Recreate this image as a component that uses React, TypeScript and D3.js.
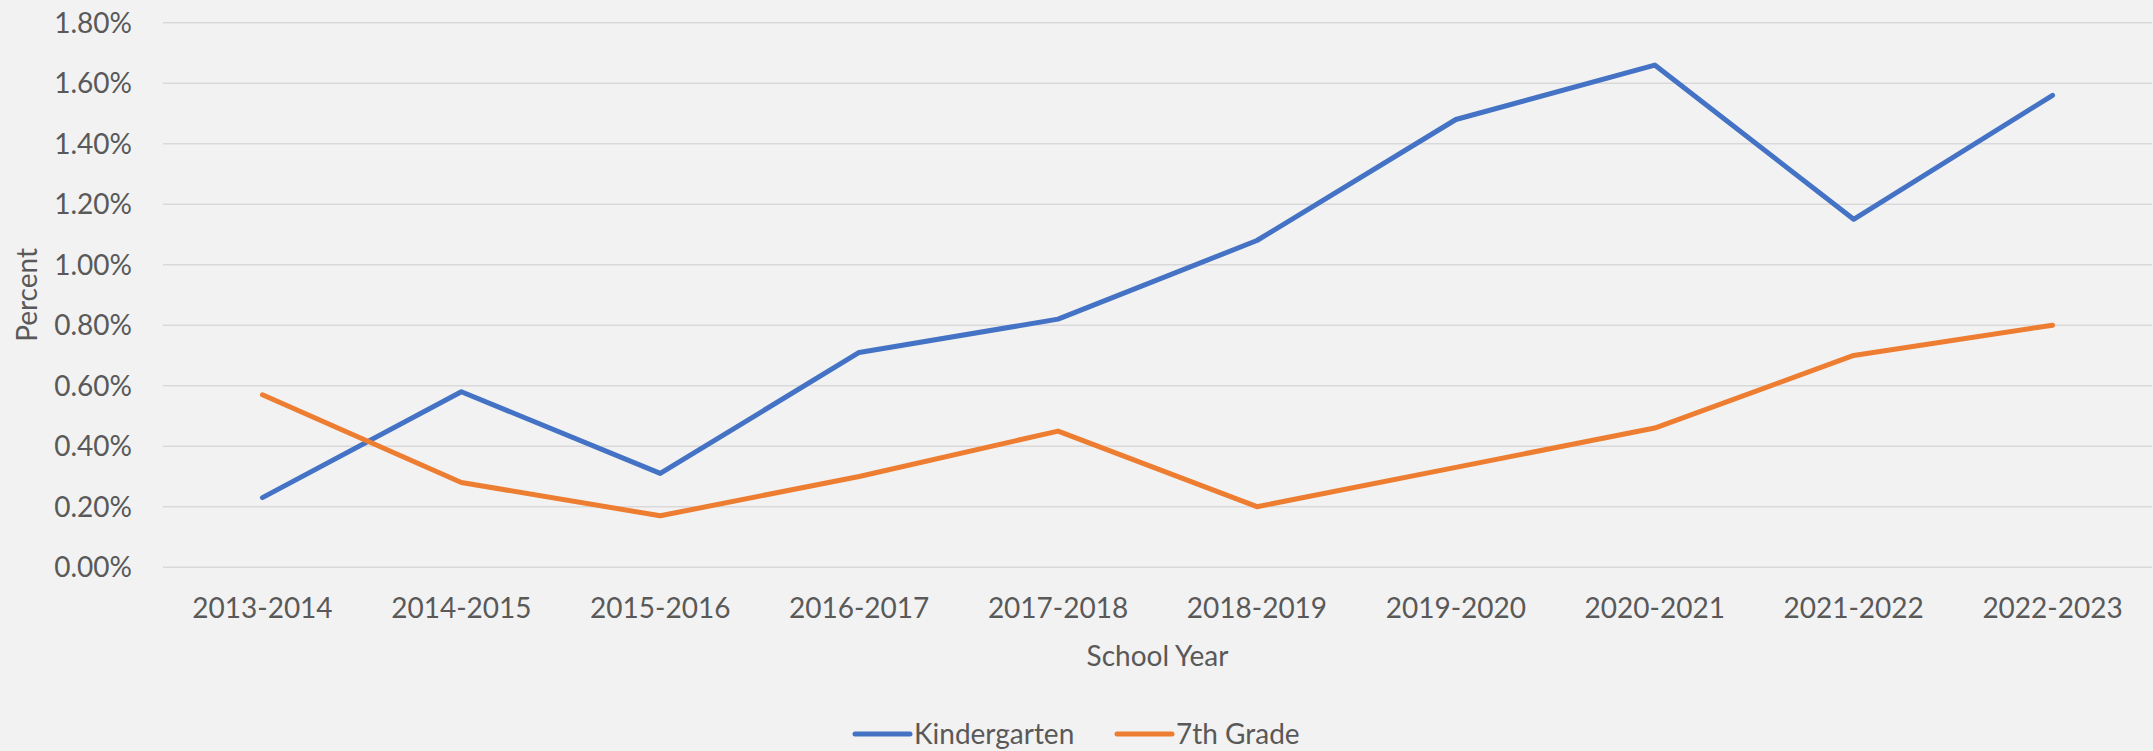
import React, { useRef, useEffect } from 'react';
import * as d3 from 'd3';

const SCHOOL_YEARS = [
    "2013-2014", "2014-2015", "2015-2016", "2016-2017", "2017-2018",
    "2018-2019", "2019-2020", "2020-2021", "2021-2022", "2022-2023"
];

// percent values
const KINDERGARTEN = [0.23, 0.58, 0.31, 0.71, 0.82, 1.08, 1.48, 1.66, 1.15, 1.56];
const SEVENTH_GRADE = [0.57, 0.28, 0.17, 0.30, 0.45, 0.20, 0.33, 0.46, 0.70, 0.80];

const Y_TICKS = [0, 0.2, 0.4, 0.6, 0.8, 1.0, 1.2, 1.4, 1.6, 1.8];

const SERIES = [
    { label: "Kindergarten", color: "#4472C4", values: KINDERGARTEN },
    { label: "7th Grade", color: "#ED7D31", values: SEVENTH_GRADE }
];

const WIDTH = 2153;
const HEIGHT = 751;
const FONT = "Lato, 'Open Sans', sans-serif";
const TEXT_COLOR = "#595959";

const App: React.FC = () => {
    const svgRef = useRef<SVGSVGElement>(null);

    useEffect(() => {
        if (!svgRef.current) return;
        const svg = d3.select(svgRef.current);
        svg.selectAll("*").remove();

        const margin = { top: 22.7, right: 1, bottom: 183.8, left: 163 };
        const width = WIDTH - margin.left - margin.right;
        const height = HEIGHT - margin.top - margin.bottom;

        svg.append("rect")
            .attr("width", WIDTH)
            .attr("height", HEIGHT)
            .attr("fill", "#F2F2F2");

        const xScale = d3.scaleBand<string>()
            .domain(SCHOOL_YEARS)
            .range([0, width]);

        const yScale = d3.scaleLinear()
            .domain([0, 1.8])
            .range([height, 0]);

        const g = svg.append("g").attr("transform", `translate(${margin.left},${margin.top})`);

        // gridlines
        g.append("g")
            .selectAll("line")
            .data(Y_TICKS)
            .join("line")
            .attr("x1", 0)
            .attr("x2", width)
            .attr("y1", d => yScale(d))
            .attr("y2", d => yScale(d))
            .attr("stroke", "#D9D9D9")
            .attr("stroke-width", 1.5);

        // y tick labels
        g.append("g")
            .selectAll("text")
            .data(Y_TICKS)
            .join("text")
            .attr("x", -31)
            .attr("y", d => yScale(d) + 10)
            .attr("text-anchor", "end")
            .attr("fill", TEXT_COLOR)
            .style("font-family", FONT)
            .style("font-size", "28px")
            .text(d => d3.format(".2f")(d) + "%");

        // x tick labels
        g.append("g")
            .selectAll("text")
            .data(SCHOOL_YEARS)
            .join("text")
            .attr("x", d => (xScale(d) || 0) + xScale.bandwidth() / 2)
            .attr("y", height + 51)
            .attr("text-anchor", "middle")
            .attr("fill", TEXT_COLOR)
            .style("font-family", FONT)
            .style("font-size", "28px")
            .text(d => d);

        // axis titles
        g.append("text")
            .attr("x", width / 2)
            .attr("y", height + 99)
            .attr("text-anchor", "middle")
            .attr("fill", TEXT_COLOR)
            .style("font-family", FONT)
            .style("font-size", "28px")
            .text("School Year");

        svg.append("text")
            .attr("transform", `translate(37,${margin.top + height / 2}) rotate(-90)`)
            .attr("text-anchor", "middle")
            .attr("fill", TEXT_COLOR)
            .style("font-family", FONT)
            .style("font-size", "28px")
            .text("Percent");

        // lines
        const line = d3.line<number>()
            .x((_, i) => (xScale(SCHOOL_YEARS[i]) || 0) + xScale.bandwidth() / 2)
            .y(d => yScale(d));

        SERIES.forEach(s => {
            g.append("path")
                .datum(s.values)
                .attr("d", line)
                .attr("fill", "none")
                .attr("stroke", s.color)
                .attr("stroke-width", 5)
                .attr("stroke-linejoin", "round")
                .attr("stroke-linecap", "round");
        });

        // legend
        const legend = svg.append("g").attr("transform", `translate(855, 734)`);
        const legendX = [0, 262];
        SERIES.forEach((s, i) => {
            const row = legend.append("g").attr("transform", `translate(${legendX[i]},0)`);
            row.append("line")
                .attr("x1", 0)
                .attr("x2", 55)
                .attr("stroke", s.color)
                .attr("stroke-width", 5)
                .attr("stroke-linecap", "round");
            row.append("text")
                .attr("x", 59)
                .attr("y", 10)
                .attr("fill", TEXT_COLOR)
                .style("font-family", FONT)
                .style("font-size", "28px")
                .text(s.label);
        });
    }, []);

    return (
        <div style={{ position: "absolute", top: 0, left: 0, width: WIDTH, height: HEIGHT }}>
            <svg ref={svgRef} width={WIDTH} height={HEIGHT} style={{ display: "block" }} />
        </div>
    );
};

export default App;
